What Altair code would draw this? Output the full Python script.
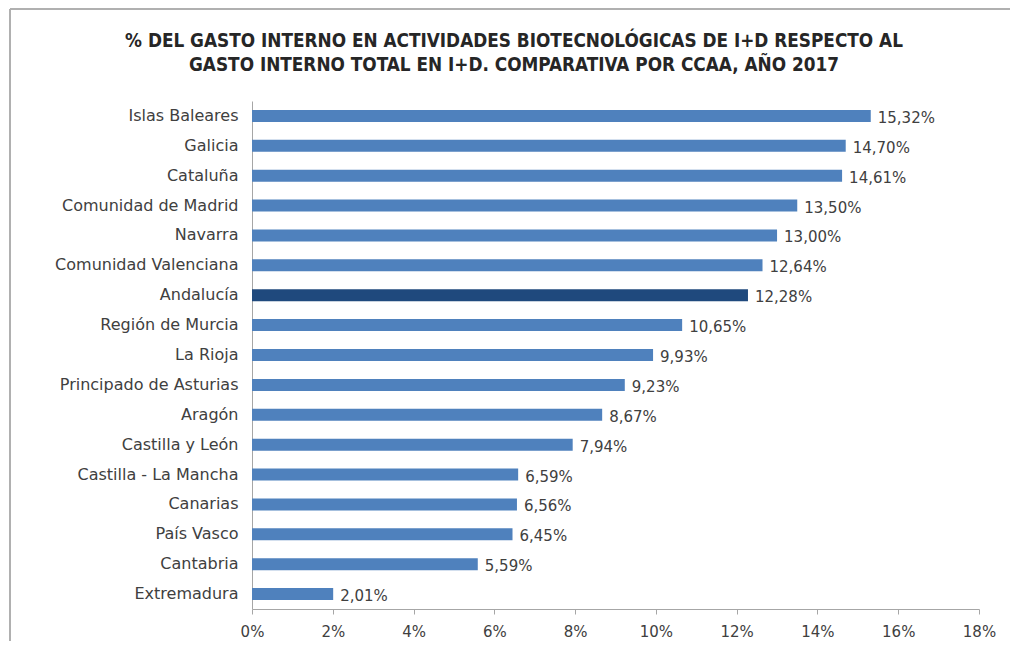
import altair as alt
import pandas as pd

regions = ["Islas Baleares", "Galicia", "Cataluña", "Comunidad de Madrid", "Navarra",
           "Comunidad Valenciana", "Andalucía", "Región de Murcia", "La Rioja",
           "Principado de Asturias", "Aragón", "Castilla y León", "Castilla - La Mancha",
           "Canarias", "País Vasco", "Cantabria", "Extremadura"]
values = [15.32, 14.70, 14.61, 13.50, 13.00, 12.64, 12.28, 10.65, 9.93, 9.23, 8.67,
          7.94, 6.59, 6.56, 6.45, 5.59, 2.01]
highlight = "Andalucía"
title_lines = ["% DEL GASTO INTERNO EN ACTIVIDADES BIOTECNOLÓGICAS DE I+D RESPECTO AL",
               "GASTO INTERNO TOTAL EN I+D. COMPARATIVA POR CCAA, AÑO 2017"]

df = pd.DataFrame({"region": regions, "value": values})
df["label"] = df["value"].map(lambda v: f"{v:.2f}".replace(".", ",") + "%")
df["grp"] = ["hl" if r == highlight else "n" for r in regions]

FONT = "DejaVu Sans"
TXT = "#404040"

base = alt.Chart(df)

bars = base.mark_bar(size=12).encode(
    y=alt.Y("region:N", sort=regions, title=None,
            axis=alt.Axis(labelFont=FONT, labelFontSize=16, labelColor=TXT,
                          ticks=False, domainColor="#a6a6a6", labelPadding=14,
                          labelLimit=300)),
    x=alt.X("value:Q", title=None,
            scale=alt.Scale(domain=[0, 18], nice=False),
            axis=alt.Axis(values=list(range(0, 19, 2)), labelExpr="datum.value + '%'",
                          labelFont=FONT, labelFontSize=15, labelColor=TXT,
                          labelFlush=False, labelOverlap=False,
                          grid=False, domainColor="#a6a6a6", tickColor="#a6a6a6",
                          tickSize=5, labelPadding=10)),
    color=alt.Color("grp:N", scale=alt.Scale(domain=["n", "hl"], range=["#4f81bd", "#1f497d"]),
                    legend=None),
)

labels = base.mark_text(align="left", baseline="middle", dx=7, dy=2, font=FONT,
                        fontSize=15, color=TXT).encode(
    y=alt.Y("region:N", sort=regions),
    x="value:Q",
    text="label:N",
)

dummy = pd.DataFrame({"a": [0]})
top_line = alt.Chart(dummy).mark_rule(stroke="#b0b0b0", strokeWidth=2, clip=False).encode(
    x=alt.value(-242), x2=alt.value(760), y=alt.value(-92))
left_line = alt.Chart(dummy).mark_rule(stroke="#b0b0b0", strokeWidth=2, clip=False).encode(
    x=alt.value(-242), y=alt.value(-92), y2=alt.value(540))

t1 = alt.Chart(pd.DataFrame({"t": [title_lines[0]]})).mark_text(
    font="DejaVu Sans Condensed", fontSize=18.8, fontWeight="bold", color="#262626",
    align="center", baseline="middle").encode(
    text="t:N", x=alt.value(262), y=alt.value(-60))
t2 = alt.Chart(pd.DataFrame({"t": [title_lines[1]]})).mark_text(
    font="DejaVu Sans Condensed", fontSize=18.8, fontWeight="bold", color="#262626",
    align="center", baseline="middle").encode(
    text="t:N", x=alt.value(262), y=alt.value(-36))

chart = alt.layer(top_line, left_line, t1, t2, bars, labels).properties(
    width=727, height=508,
    autosize=alt.AutoSizeParams(type="none"),
    padding={"left": 244, "top": 93, "right": 31, "bottom": 36},
).configure_view(stroke=None)

chart.save("out.html", embed_options={"renderer": "svg", "actions": False})
